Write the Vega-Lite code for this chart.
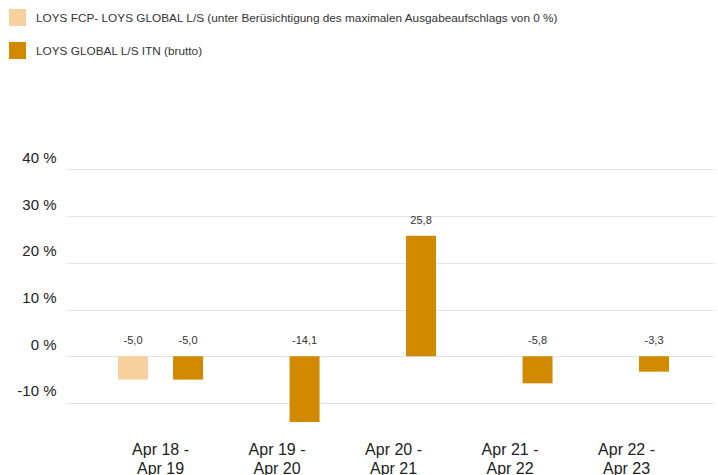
{
  "$schema": "https://vega.github.io/schema/vega-lite/v6.json",
  "width": 647,
  "height": 285,
  "autosize": {"type": "none"},
  "padding": {"left": 67, "top": 146, "right": 4, "bottom": 44},
  "background": "#ffffff",
  "data": {
    "values": [
      {"period": "Apr 18 - Apr 19", "series": "LOYS FCP- LOYS GLOBAL L/S (unter Berüsichtigung des maximalen Ausgabeaufschlags von 0 %)", "value": -5.0},
      {"period": "Apr 18 - Apr 19", "series": "LOYS GLOBAL L/S ITN (brutto)", "value": -5.0},
      {"period": "Apr 19 - Apr 20", "series": "LOYS GLOBAL L/S ITN (brutto)", "value": -14.1},
      {"period": "Apr 20 - Apr 21", "series": "LOYS GLOBAL L/S ITN (brutto)", "value": 25.8},
      {"period": "Apr 21 - Apr 22", "series": "LOYS GLOBAL L/S ITN (brutto)", "value": -5.8},
      {"period": "Apr 22 - Apr 23", "series": "LOYS GLOBAL L/S ITN (brutto)", "value": -3.3}
    ]
  },
  "encoding": {
    "x": {
      "field": "period", "type": "nominal", "sort": null,
      "scale": {"paddingInner": 0, "paddingOuter": 0.277, "align": 0.547},
      "axis": {
        "title": null, "domain": false, "ticks": false, "labelAngle": 0,
        "labelFontSize": 16, "labelColor": "#222222", "labelFont": "Liberation Sans",
        "labelPadding": 10, "labelLineHeight": 19, "labelBaseline": "top",
        "labelExpr": "[slice(datum.label, 0, 8), slice(datum.label, 9)]"
      }
    },
    "xOffset": {
      "field": "series", "type": "nominal",
      "scale": {
        "domain": ["LOYS FCP- LOYS GLOBAL L/S (unter Berüsichtigung des maximalen Ausgabeaufschlags von 0 %)", "LOYS GLOBAL L/S ITN (brutto)"],
        "paddingInner": 0.4545, "paddingOuter": 0.286
      }
    }
  },
  "layer": [
    {
      "mark": {"type": "bar"},
      "encoding": {
        "y": {
          "field": "value", "type": "quantitative",
          "scale": {"domain": [-16, 45], "nice": false, "zero": false},
          "axis": {
            "title": null, "domain": false, "ticks": false,
            "values": [-10, 0, 10, 20, 30, 40],
            "grid": true, "gridColor": "#e4e4e4", "gridWidth": 1,
            "labelExpr": "datum.value + ' %'",
            "labelFontSize": 15, "labelColor": "#222222", "labelFont": "Liberation Sans",
            "labelPadding": 11, "labelBaseline": "middle", "labelOffset": -12
          }
        },
        "color": {
          "field": "series", "type": "nominal",
          "scale": {
            "domain": ["LOYS FCP- LOYS GLOBAL L/S (unter Berüsichtigung des maximalen Ausgabeaufschlags von 0 %)", "LOYS GLOBAL L/S ITN (brutto)"],
            "range": ["#f6d09f", "#d18a00"]
          },
          "legend": {
            "title": null, "orient": "none", "legendX": -58, "legendY": -137,
            "direction": "vertical", "symbolType": "square", "symbolSize": 289,
            "symbolStrokeWidth": 0, "symbolOpacity": 1, "rowPadding": 16, "padding": 0,
            "labelFontSize": 11.8, "labelColor": "#333333", "labelFont": "Liberation Sans",
            "labelOffset": 10, "labelLimit": 0
          }
        }
      }
    },
    {
      "transform": [{"filter": "datum.value >= 0"}],
      "mark": {"type": "text", "baseline": "middle", "dy": -15, "fontSize": 11, "color": "#333333", "font": "Liberation Sans"},
      "encoding": {
        "y": {"field": "value", "type": "quantitative"},
        "text": {"field": "value", "type": "quantitative", "format": ".1f"}
      }
    },
    {
      "transform": [{"filter": "datum.value < 0"}],
      "mark": {"type": "text", "baseline": "middle", "dy": -15, "fontSize": 11, "color": "#333333", "font": "Liberation Sans"},
      "encoding": {
        "y": {"datum": 0, "type": "quantitative"},
        "text": {"field": "value", "type": "quantitative", "format": ".1f"}
      }
    }
  ],
  "config": {
    "view": {"stroke": null},
    "locale": {"number": {"decimal": ",", "thousands": ".", "grouping": [3], "currency": ["", " €"], "minus": "-"}}
  }
}
